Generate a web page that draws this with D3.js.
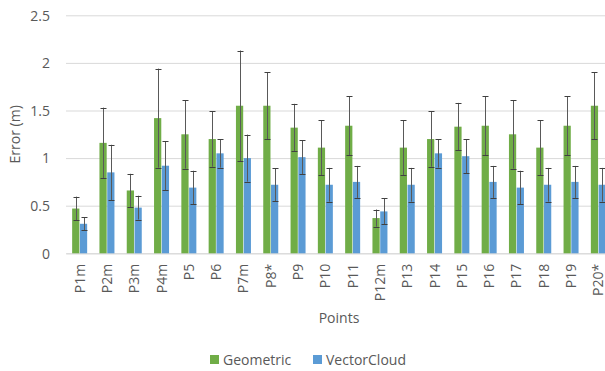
<!DOCTYPE html>
<html>
<head>
<meta charset="utf-8">
<script src="https://cdn.jsdelivr.net/npm/d3@7"></script>
<style>
  html, body { margin: 0; padding: 0; background: #fff; }
  svg { display: block; font-family: "Open Sans", sans-serif; }
</style>
</head>
<body>
<svg id="chart" width="605" height="371"></svg>
<script>
const categories = ["P1m","P2m","P3m","P4m","P5","P6","P7m","P8*","P9","P10","P11","P12m","P13","P14","P15","P16","P17","P18","P19","P20*"];
const geometric = [0.47,1.16,0.66,1.42,1.25,1.20,1.55,1.55,1.32,1.11,1.34,0.37,1.11,1.20,1.33,1.34,1.25,1.11,1.34,1.55];
const geometricErr = [0.125,0.37,0.175,0.52,0.36,0.29,0.58,0.35,0.25,0.29,0.31,0.09,0.29,0.29,0.25,0.31,0.36,0.29,0.31,0.35];
const vectorCloud = [0.31,0.85,0.48,0.92,0.69,1.05,1.00,0.72,1.01,0.72,0.75,0.44,0.72,1.05,1.02,0.75,0.69,0.72,0.75,0.72];
const vectorCloudErr = [0.07,0.29,0.125,0.255,0.177,0.15,0.247,0.173,0.178,0.177,0.168,0.136,0.177,0.15,0.177,0.168,0.177,0.177,0.168,0.177];
const seriesNames = ["Geometric","VectorCloud"];
const seriesColors = ["#70AD47","#5B9BD5"];
const yTicks = [0,0.5,1,1.5,2,2.5];
const yTickLabels = ["0","0.5","1","1.5","2","2.5"];

(function () {
const svg = d3.select("#chart");
const pLeft = 66, pRight = 612, pTop = 15.3, pBottom = 253.3;
const textColor = "#595959";

const x = d3.scaleBand().domain(categories).range([pLeft, pRight]).paddingInner(0).paddingOuter(0);
const sub = d3.scaleBand().domain(seriesNames).range([-7.5, 7.5]).paddingInner(0.07);
const y = d3.scaleLinear().domain([0, 2.5]).range([pBottom, pTop]);

// gridlines + y axis
const yAxis = svg.append("g")
  .attr("transform", `translate(${pLeft},0)`)
  .call(d3.axisLeft(y).tickValues(yTicks).tickFormat((d,i) => yTickLabels[i])
    .tickSizeInner(-(pRight - pLeft)).tickSizeOuter(0).tickPadding(16));
yAxis.select(".domain").remove();
yAxis.selectAll(".tick line").attr("stroke", "#d9d9d9").attr("stroke-width", 1);
yAxis.selectAll(".tick text").attr("fill", textColor).style("font-size", "14px")
  .style("font-family", "'Open Sans', sans-serif").attr("dy", "0.34em");

// x axis
const xAxis = svg.append("g")
  .attr("transform", `translate(0,${pBottom})`)
  .call(d3.axisBottom(x).tickSize(0));
xAxis.select(".domain").attr("stroke", "#d9d9d9");
xAxis.selectAll(".tick text")
  .attr("fill", textColor).style("font-size", "14px")
  .style("font-family", "'Open Sans', sans-serif")
  .attr("transform", "rotate(-90)")
  .attr("text-anchor", "end")
  .attr("x", -10.5).attr("y", 0).attr("dy", "0.36em");

const series = [
  { name: seriesNames[0], values: geometric, errs: geometricErr, color: seriesColors[0] },
  { name: seriesNames[1], values: vectorCloud, errs: vectorCloudErr, color: seriesColors[1] }
];

series.forEach(s => {
  const g = svg.append("g");
  const data = categories.map((c, i) => ({ c, v: s.values[i], e: s.errs[i] }));
  g.selectAll("rect").data(data).enter().append("rect")
    .attr("x", d => x(d.c) + x.bandwidth() / 2 + sub(s.name))
    .attr("width", sub.bandwidth())
    .attr("y", d => y(d.v))
    .attr("height", d => y(0) - y(d.v))
    .attr("fill", s.color);
  const eb = g.selectAll("g.err").data(data).enter().append("g").attr("class", "err");
  const cx = d => Math.round(x(d.c) + x.bandwidth() / 2 + sub(s.name) + sub.bandwidth() / 2) + 0.5;
  eb.append("line")
    .attr("x1", cx).attr("x2", cx)
    .attr("y1", d => y(d.v + d.e)).attr("y2", d => y(d.v - d.e))
    .attr("stroke", "#595959").attr("stroke-width", 1);
  [1, -1].forEach(sign => {
    eb.append("line")
      .attr("x1", d => cx(d) - 3).attr("x2", d => cx(d) + 3)
      .attr("y1", d => Math.round(y(d.v + sign * d.e)) + 0.5)
      .attr("y2", d => Math.round(y(d.v + sign * d.e)) + 0.5)
      .attr("stroke", "#404040").attr("stroke-width", 1);
  });
});

// axis titles
svg.append("text")
  .attr("x", (pLeft + pRight) / 2).attr("y", 323)
  .attr("text-anchor", "middle").attr("fill", textColor)
  .style("font-size", "14px").text("Points");
svg.append("text")
  .attr("transform", `translate(20,${(pTop + pBottom) / 2}) rotate(-90)`)
  .attr("text-anchor", "middle").attr("fill", textColor)
  .style("font-size", "14px").text("Error (m)");

// legend
const legendX = [210, 313];
const lg = svg.append("g");
seriesNames.forEach((n, i) => {
  lg.append("rect").attr("x", legendX[i]).attr("y", 355).attr("width", 9).attr("height", 9)
    .attr("fill", seriesColors[i]);
  lg.append("text").attr("x", legendX[i] + 13).attr("y", 365)
    .attr("fill", textColor).style("font-size", "14px").text(n);
});
})();
</script>
</body>
</html>
